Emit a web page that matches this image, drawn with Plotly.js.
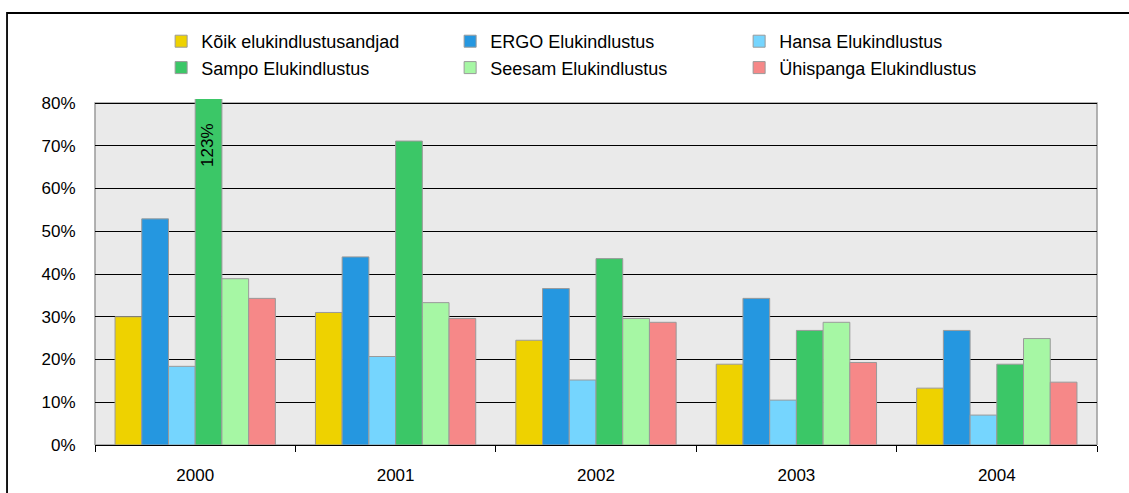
<!DOCTYPE html>
<html>
<head>
<meta charset="utf-8">
<script src="https://cdn.plot.ly/plotly-3.0.1.min.js"></script>
<style>html,body{margin:0;padding:0;background:#fff;}#chart{width:1129px;height:493px;}</style>
</head>
<body>
<div id="chart"></div>
<script>
var years = ['2000', '2001', '2002', '2003', '2004'];
var seriesNames = ['Kõik elukindlustusandjad', 'ERGO Elukindlustus', 'Hansa Elukindlustus', 'Sampo Elukindlustus', 'Seesam Elukindlustus', 'Ühispanga Elukindlustus'];
var koik = [0.300, 0.310, 0.245, 0.189, 0.133];
var ergo = [0.529, 0.440, 0.366, 0.343, 0.268];
var hansa = [0.184, 0.207, 0.152, 0.105, 0.070];
var sampo = [1.23, 0.711, 0.436, 0.268, 0.189];
var seesam = [0.389, 0.333, 0.296, 0.287, 0.249];
var yhispanga = [0.343, 0.296, 0.287, 0.193, 0.147];
var colors = ['#EED200', '#2597E0', '#75D5FE', '#3BC767', '#A6F7A4', '#F68888'];
var yTickVals = [0, 0.1, 0.2, 0.3, 0.4, 0.5, 0.6, 0.7, 0.8];
var yTickText = ['0%', '10%', '20%', '30%', '40%', '50%', '60%', '70%', '80%'];
var clippedLabel = '123%';

var allSeries = [koik, ergo, hansa, sampo, seesam, yhispanga];
var traces = allSeries.map(function (vals, i) {
  return {
    type: 'bar',
    name: seriesNames[i],
    x: years,
    y: vals,
    marker: {color: colors[i], line: {color: '#9a9a9a', width: 1}},
    hoverinfo: 'skip'
  };
});

var font = {family: 'Arial, "Liberation Sans", sans-serif', color: '#000'};
var plotH = 346;

var layout = {
  width: 1129,
  height: 493,
  margin: {l: 95, r: 32, t: 99, b: 48, autoexpand: false},
  paper_bgcolor: '#ffffff',
  plot_bgcolor: 'rgba(0,0,0,0)',
  font: Object.assign({size: 17}, font),
  barmode: 'group',
  bargap: 0.2,
  bargroupgap: 0,
  showlegend: true,
  legend: {
    orientation: 'h',
    x: 0.066,
    xanchor: 'left',
    y: (445 - 23) / plotH,
    yanchor: 'top',
    entrywidth: 244,
    entrywidthmode: 'pixels',
    font: Object.assign({size: 18}, font),
    bgcolor: 'rgba(0,0,0,0)',
    traceorder: 'normal'
  },
  xaxis: {
    type: 'category',
    range: [-0.5, years.length - 0.5],
    autorange: false,
    tickson: 'boundaries',
    ticks: 'outside',
    ticklen: 6,
    tickcolor: '#000',
    tickwidth: 1,
    tickangle: 0,
    ticklabelstandoff: 15,
    showline: true,
    linecolor: '#000',
    linewidth: 1,
    showgrid: false,
    tickfont: Object.assign({size: 17}, font),
    fixedrange: true
  },
  yaxis: {
    range: [0, 0.8 * plotH / 342],
    autorange: false,
    tickvals: yTickVals,
    ticktext: yTickText,
    ticks: 'outside',
    ticklen: 15,
    tickcolor: 'rgba(0,0,0,0)',
    showgrid: true,
    gridcolor: '#000',
    gridwidth: 1,
    zeroline: false,
    showline: false,
    tickfont: Object.assign({size: 17}, font),
    fixedrange: true
  },
  shapes: [
    {type: 'rect', xref: 'paper', yref: 'y', x0: 0, x1: 1, y0: 0, y1: 0.8, fillcolor: '#EAEAEA', line: {width: 0}, layer: 'below'},
    {type: 'rect', xref: 'paper', yref: 'y', x0: 0, x1: 1, y0: 0, y1: 0.8, fillcolor: 'rgba(0,0,0,0)', line: {color: '#9a9a9a', width: 1.5}, layer: 'between'},
    {type: 'rect', xref: 'paper', yref: 'paper', x0: -0.0878, x1: 1.05, y0: -0.2, y1: (445 - 13) / plotH, fillcolor: 'rgba(0,0,0,0)', line: {color: '#000', width: 1.8}, layer: 'above'}
  ],
  annotations: [
    {x: years.indexOf('2000'), y: 0.70, xref: 'x', yref: 'y', text: clippedLabel, showarrow: false, textangle: -90, xshift: 13, font: Object.assign({size: 17}, font)}
  ]
};

Plotly.newPlot('chart', traces, layout, {displayModeBar: false, staticPlot: true});
</script>
</body>
</html>
